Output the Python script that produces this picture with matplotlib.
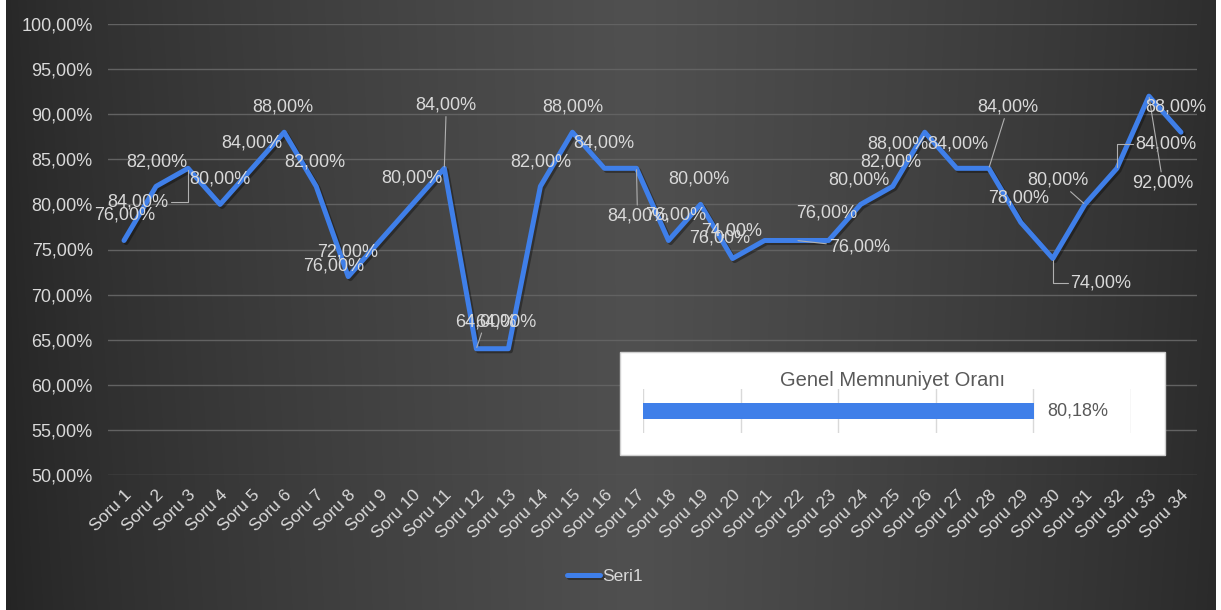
import numpy as np
import matplotlib
matplotlib.use("Agg")
import matplotlib.pyplot as plt
from matplotlib.patches import Rectangle
import matplotlib.patheffects as pe

# ---------------- data ----------------
categories = [f"Soru {i}" for i in range(1, 35)]
values = [76, 82, 84, 80, 84, 88, 82, 72, 76, 80,
          84, 64, 64, 82, 88, 84, 84, 76, 80, 74,
          76, 76, 76, 80, 82, 88, 84, 84, 78, 74,
          80, 84, 92, 88]
series_name = "Seri1"
yticks = [50, 55, 60, 65, 70, 75, 80, 85, 90, 95, 100]
genel_title = "Genel Memnuniyet Oranı"
genel_oran = 80.18

# label placement (pixel offsets from point) and leader flags
label_offsets = [(1, 25), (1, 24), (-50, -34), (0, 25), (0, 25), (-1, 25), (-1, 24), (-1, 25),
                 (-47, -26), (0, 26), (2, 63), (9, 27), (-3, 27), (0, 24), (0, 25), (-1, 25),
                 (1, -48), (7, 25), (-2, 25), (-1, 28), (-45, 2), (63, -7), (-2, 27), (-2, 24),
                 (-2, 24), (-27, -12), (1, 24), (19, 61), (-2, 24), (48, -24), (-27, 24),
                 (49, 24), (14, -87), (-5, 25)]
leaders = {3: "angle,angleA=0,angleB=90,rad=0", 11: "arc3", 12: "arc3", 17: "arc3",
           22: "arc3", 28: "arc3", 30: "angle,angleA=0,angleB=90,rad=0", 31: "arc3",
           32: "angle,angleA=0,angleB=90,rad=0", 33: "arc3"}

def fmt(v):
    return f"{v:.2f}".replace(".", ",") + "%"

W, H = 1221, 610
fig = plt.figure(figsize=(W / 100, H / 100), dpi=100)
fig.patch.set_facecolor("white")

# ---------------- background gradient ----------------
bg = fig.add_axes([0, 0, 1, 1], zorder=-10)
xs = np.linspace(0, 1, W)
ys = np.linspace(0, 1, H)
X, Y = np.meshgrid(xs, ys)
d = np.abs(X - 0.52) / 0.52
val = 40 + 40 * np.clip(1 - d, 0, 1) ** 0.75 - 4 * Y * (1 - np.clip(1 - d, 0, 1))
img = np.dstack([val, val, val]) / 255.0
bg.imshow(img, extent=[6, W - 5, 0, H], origin="upper", aspect="auto")
bg.set_xlim(0, W)
bg.set_ylim(0, H)
bg.axis("off")

# ---------------- main chart ----------------
L, R, T, B = 108, 1197, 24, 475
ax = fig.add_axes([L / W, 1 - B / H, (R - L) / W, (B - T) / H])
ax.set_facecolor("none")
x = np.arange(len(categories))
line_color = "#3f7fe9"
ax.plot(x, values, color=line_color, lw=3.6, solid_joinstyle="round",
        solid_capstyle="round", label=series_name, zorder=3,
        path_effects=[pe.SimpleLineShadow(offset=(1.5, -1.5), shadow_color="black", alpha=0.35),
                      pe.Normal()])
ax.set_xlim(-0.5, len(categories) - 0.5)
ax.set_ylim(50, 100)
ax.set_yticks(yticks)
ax.set_yticklabels([fmt(t) for t in yticks])
ax.set_xticks(x)
ax.set_xticklabels(categories, rotation=45, ha="right", rotation_mode="anchor")
ax.tick_params(axis="y", length=0, pad=11, labelsize=13, labelcolor="#d9d9d9")
ax.tick_params(axis="x", length=0, pad=9, labelsize=12.5, labelcolor="#d9d9d9")
for lab in ax.get_yticklabels() + ax.get_xticklabels():
    lab.set_fontfamily("Liberation Sans")
for s in ax.spines.values():
    s.set_visible(False)
ax.yaxis.grid(True, color="#626262", lw=1)
ax.set_axisbelow(True)

for i, (v, (dx, dy)) in enumerate(zip(values, label_offsets), start=1):
    kw = {}
    if i in leaders:
        kw["arrowprops"] = dict(arrowstyle="-", color="#b0b0b0", lw=0.8,
                                connectionstyle=leaders[i], shrinkA=0, shrinkB=1)
    ax.annotate(fmt(v), xy=(i - 1, v), xytext=(dx, dy), textcoords="offset pixels",
                ha="center", va="center", fontsize=13, color="#d9d9d9",
                family="Liberation Sans", zorder=4, **kw)

leg = fig.legend(loc="center", bbox_to_anchor=(605 / W, 1 - 576 / H), frameon=False,
                 handlelength=1.9, handletextpad=0.1, prop={"family": "Liberation Sans", "size": 12.5})
for t in leg.get_texts():
    t.set_color("#d9d9d9")

# ---------------- inset box ----------------
box = Rectangle((620 / W, 1 - 455 / H), 545 / W, 103 / H, transform=fig.transFigure,
                facecolor="white", edgecolor="#cfcfcf", lw=1, zorder=5)
fig.patches.append(box)
fig.text(892 / W, 1 - 381 / H, genel_title, ha="center", va="center", fontsize=14.5,
         color="#595959", family="Liberation Sans", zorder=6)
ax2 = fig.add_axes([643 / W, 1 - 433 / H, 488 / W, 44 / H], zorder=6)
ax2.set_facecolor("none")
ax2.barh([0], [genel_oran / 100], height=0.36, color="#3f7fe9", zorder=3)
ax2.set_xlim(0, 1)
ax2.set_ylim(-0.5, 0.5)
ax2.set_xticks(np.linspace(0, 1, 6))
ax2.set_yticks([])
ax2.xaxis.grid(True, color="#d9d9d9", lw=1)
ax2.tick_params(length=0, labelbottom=False)
for s in ax2.spines.values():
    s.set_visible(False)
ax2.annotate(fmt(genel_oran), xy=(genel_oran / 100, 0), xytext=(13, 0),
             textcoords="offset pixels", ha="left", va="center", fontsize=13,
             color="#595959", family="Liberation Sans")

fig.savefig("out.png", dpi=100)
